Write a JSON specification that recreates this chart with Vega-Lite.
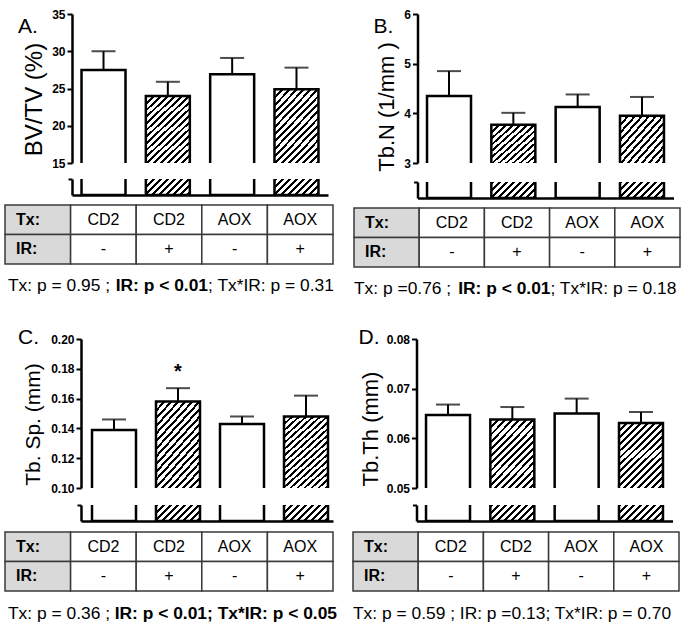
{
"$schema": "https://vega.github.io/schema/vega-lite/v6.json",
"background": "white",
"padding": {"left": 4, "top": 8, "right": 0, "bottom": 0},
"config": {
  "view": {"stroke": null},
  "font": "Liberation Sans",
  "axis": {"domainColor": "black", "domainWidth": 2.5, "tickColor": "black", "tickWidth": 2, "tickSize": 5, "labelColor": "black", "labelFontSize": 12, "labelFontWeight": "bold", "labelPadding": 2, "labelOverlap": false, "titleColor": "black", "titleFontSize": 22, "titleFontWeight": "normal", "grid": false},
  "axisY": {"titleAngle": -90, "titleAlign": "center", "titleBaseline": "bottom"}
},
"datasets": {
  "bars": [
    {"panel": "A", "grp": "CD2/-", "ir": "-", "mean": 27.5, "hi": 30.0, "star": ""},
    {"panel": "A", "grp": "CD2/+", "ir": "+", "mean": 24.0, "hi": 25.9, "star": ""},
    {"panel": "A", "grp": "AOX/-", "ir": "-", "mean": 26.9, "hi": 29.1, "star": ""},
    {"panel": "A", "grp": "AOX/+", "ir": "+", "mean": 24.9, "hi": 27.8, "star": ""},
    {"panel": "B", "grp": "CD2/-", "ir": "-", "mean": 4.35, "hi": 4.85, "star": ""},
    {"panel": "B", "grp": "CD2/+", "ir": "+", "mean": 3.77, "hi": 4.01, "star": ""},
    {"panel": "B", "grp": "AOX/-", "ir": "-", "mean": 4.13, "hi": 4.38, "star": ""},
    {"panel": "B", "grp": "AOX/+", "ir": "+", "mean": 3.95, "hi": 4.33, "star": ""},
    {"panel": "C", "grp": "CD2/-", "ir": "-", "mean": 0.139, "hi": 0.146, "star": ""},
    {"panel": "C", "grp": "CD2/+", "ir": "+", "mean": 0.158, "hi": 0.167, "star": "*"},
    {"panel": "C", "grp": "AOX/-", "ir": "-", "mean": 0.143, "hi": 0.148, "star": ""},
    {"panel": "C", "grp": "AOX/+", "ir": "+", "mean": 0.148, "hi": 0.162, "star": ""},
    {"panel": "D", "grp": "CD2/-", "ir": "-", "mean": 0.0647, "hi": 0.0668, "star": ""},
    {"panel": "D", "grp": "CD2/+", "ir": "+", "mean": 0.0638, "hi": 0.0663, "star": ""},
    {"panel": "D", "grp": "AOX/-", "ir": "-", "mean": 0.0650, "hi": 0.0680, "star": ""},
    {"panel": "D", "grp": "AOX/+", "ir": "+", "mean": 0.0631, "hi": 0.0653, "star": ""}
  ],
  "cells": [
    {"row": "Tx:", "col": "head", "label": "Tx:"},
    {"row": "IR:", "col": "head", "label": "IR:"},
    {"row": "Tx:", "col": "CD2/-", "label": "CD2"},
    {"row": "IR:", "col": "CD2/-", "label": "-"},
    {"row": "Tx:", "col": "CD2/+", "label": "CD2"},
    {"row": "IR:", "col": "CD2/+", "label": "+"},
    {"row": "Tx:", "col": "AOX/-", "label": "AOX"},
    {"row": "IR:", "col": "AOX/-", "label": "-"},
    {"row": "Tx:", "col": "AOX/+", "label": "AOX"},
    {"row": "IR:", "col": "AOX/+", "label": "+"}
  ],
  "pvals": [
    {"panel": "A", "t": "Tx: p = 0.95 ; ", "start": 0, "end": 15, "sig": false},
    {"panel": "A", "t": "IR: p < 0.01", "start": 15, "end": 27, "sig": true},
    {"panel": "A", "t": "; Tx*IR: p = 0.31", "start": 27, "end": 44, "sig": false},
    {"panel": "B", "t": "Tx: p =0.76 ; ", "start": 0, "end": 14, "sig": false},
    {"panel": "B", "t": "IR: p < 0.01", "start": 14, "end": 26, "sig": true},
    {"panel": "B", "t": "; Tx*IR: p = 0.18", "start": 26, "end": 43, "sig": false},
    {"panel": "C", "t": "Tx: p = 0.36 ; ", "start": 0, "end": 15, "sig": false},
    {"panel": "C", "t": "IR: p < 0.01; Tx*IR: p < 0.05", "start": 15, "end": 44, "sig": true},
    {"panel": "D", "t": "Tx: p = 0.59 ; IR: p =0.13; Tx*IR: p = 0.70", "start": 0, "end": 43, "sig": false}
  ]
},
"spacing": 26,
"vconcat": [
{"hconcat": [
{
 "spacing": 9,
 "vconcat": [
  {
   "width": 328, "height": 149,
   "title": {"text": "A.", "anchor": "start", "frame": "group", "orient": "top", "baseline": "top", "offset": -29, "dx": 13, "fontSize": 21, "fontWeight": "normal", "color": "black"},
   "data": {"name": "bars"},
   "transform": [{"filter": "datum.panel == 'A'"}],
   "encoding": {"x": {"field": "grp", "type": "nominal", "sort": null, "axis": null, "scale": {"domain": ["CD2/-", "CD2/+", "AOX/-", "AOX/+"], "range": [67, 323], "paddingInner": 0.316, "paddingOuter": 0.148}}},
   "layer": [
    {"transform": [{"filter": "datum.ir == '+'"}],
     "mark": {"type": "bar", "fill": {"gradient": "linear", "x1": 0, "y1": 0, "x2": 0.892, "y2": 1.429, "stops": [
{"offset":0,"color":"#000"},{"offset":0.02,"color":"#000"},{"offset":0.02,"color":"#fff"},{"offset":0.05,"color":"#fff"},
{"offset":0.05,"color":"#000"},{"offset":0.07,"color":"#000"},{"offset":0.07,"color":"#fff"},{"offset":0.1,"color":"#fff"},
{"offset":0.1,"color":"#000"},{"offset":0.12,"color":"#000"},{"offset":0.12,"color":"#fff"},{"offset":0.15,"color":"#fff"},
{"offset":0.15,"color":"#000"},{"offset":0.17,"color":"#000"},{"offset":0.17,"color":"#fff"},{"offset":0.2,"color":"#fff"},
{"offset":0.2,"color":"#000"},{"offset":0.22,"color":"#000"},{"offset":0.22,"color":"#fff"},{"offset":0.25,"color":"#fff"},
{"offset":0.25,"color":"#000"},{"offset":0.27,"color":"#000"},{"offset":0.27,"color":"#fff"},{"offset":0.3,"color":"#fff"},
{"offset":0.3,"color":"#000"},{"offset":0.32,"color":"#000"},{"offset":0.32,"color":"#fff"},{"offset":0.35,"color":"#fff"},
{"offset":0.35,"color":"#000"},{"offset":0.37,"color":"#000"},{"offset":0.37,"color":"#fff"},{"offset":0.4,"color":"#fff"},
{"offset":0.4,"color":"#000"},{"offset":0.42,"color":"#000"},{"offset":0.42,"color":"#fff"},{"offset":0.45,"color":"#fff"},
{"offset":0.45,"color":"#000"},{"offset":0.47,"color":"#000"},{"offset":0.47,"color":"#fff"},{"offset":0.5,"color":"#fff"},
{"offset":0.5,"color":"#000"},{"offset":0.52,"color":"#000"},{"offset":0.52,"color":"#fff"},{"offset":0.55,"color":"#fff"},
{"offset":0.55,"color":"#000"},{"offset":0.57,"color":"#000"},{"offset":0.57,"color":"#fff"},{"offset":0.6,"color":"#fff"},
{"offset":0.6,"color":"#000"},{"offset":0.62,"color":"#000"},{"offset":0.62,"color":"#fff"},{"offset":0.65,"color":"#fff"},
{"offset":0.65,"color":"#000"},{"offset":0.67,"color":"#000"},{"offset":0.67,"color":"#fff"},{"offset":0.7,"color":"#fff"},
{"offset":0.7,"color":"#000"},{"offset":0.72,"color":"#000"},{"offset":0.72,"color":"#fff"},{"offset":0.75,"color":"#fff"},
{"offset":0.75,"color":"#000"},{"offset":0.77,"color":"#000"},{"offset":0.77,"color":"#fff"},{"offset":0.8,"color":"#fff"},
{"offset":0.8,"color":"#000"},{"offset":0.82,"color":"#000"},{"offset":0.82,"color":"#fff"},{"offset":0.85,"color":"#fff"},
{"offset":0.85,"color":"#000"},{"offset":0.87,"color":"#000"},{"offset":0.87,"color":"#fff"},{"offset":0.9,"color":"#fff"},
{"offset":0.9,"color":"#000"},{"offset":0.92,"color":"#000"},{"offset":0.92,"color":"#fff"},{"offset":0.95,"color":"#fff"},
{"offset":0.95,"color":"#000"},{"offset":0.97,"color":"#000"},{"offset":0.97,"color":"#fff"},{"offset":1,"color":"#fff"}]}},
     "encoding": {"y": {"field": "mean", "type": "quantitative", "scale": {"domain": [15, 35], "nice": false, "zero": false}, "axis": {"title": "BV/TV (%)", "values": [15, 20, 25, 30, 35], "tickCount": 20, "format": "d", "offset": -67, "titleX": -26, "titleY": 85, "labelOverlap": false, "labelFontSize": 12, "labelFontWeight": "bold", "labelColor": "black", "labelPadding": 2, "domainWidth": 2.5, "domainColor": "black", "tickWidth": 2, "tickSize": 5, "tickColor": "black", "titleFontSize": 24, "titleFontWeight": "normal", "titleColor": "black", "titleAngle": -90, "titleAlign": "center", "titleBaseline": "bottom", "grid": false}}, "y2": {"datum": 15}}},
    {"mark": {"type": "bar", "filled": false, "stroke": "black", "strokeWidth": 2.5, "clip": true},
     "encoding": {"y": {"field": "mean", "type": "quantitative"}, "y2": {"datum": 0}}},
    {"mark": {"type": "rule", "stroke": "black", "strokeWidth": 2},
     "encoding": {"y": {"field": "mean", "type": "quantitative"}, "y2": {"field": "hi"}}},
    {"mark": {"type": "tick", "size": 24, "thickness": 2, "color": "black"},
     "encoding": {"y": {"field": "hi", "type": "quantitative"}}}
   ]
  },
  {
   "width": 328, "height": 16,
   "data": {"name": "bars"},
   "transform": [{"filter": "datum.panel == 'A'"}],
   "encoding": {"x": {"field": "grp", "type": "nominal", "sort": null, "axis": {"domain": true, "ticks": false, "labels": false, "title": null}, "scale": {"domain": ["CD2/-", "CD2/+", "AOX/-", "AOX/+"], "range": [67, 323], "paddingInner": 0.316, "paddingOuter": 0.148}}},
   "layer": [
    {"transform": [{"filter": "datum.ir == '+'"}],
     "mark": {"type": "bar", "fill": {"gradient": "linear", "x1": 0, "y1": 0, "x2": 2.81, "y2": 1.022, "stops": [
{"offset":0,"color":"#000"},{"offset":0.02,"color":"#000"},{"offset":0.02,"color":"#fff"},{"offset":0.05,"color":"#fff"},
{"offset":0.05,"color":"#000"},{"offset":0.07,"color":"#000"},{"offset":0.07,"color":"#fff"},{"offset":0.1,"color":"#fff"},
{"offset":0.1,"color":"#000"},{"offset":0.12,"color":"#000"},{"offset":0.12,"color":"#fff"},{"offset":0.15,"color":"#fff"},
{"offset":0.15,"color":"#000"},{"offset":0.17,"color":"#000"},{"offset":0.17,"color":"#fff"},{"offset":0.2,"color":"#fff"},
{"offset":0.2,"color":"#000"},{"offset":0.22,"color":"#000"},{"offset":0.22,"color":"#fff"},{"offset":0.25,"color":"#fff"},
{"offset":0.25,"color":"#000"},{"offset":0.27,"color":"#000"},{"offset":0.27,"color":"#fff"},{"offset":0.3,"color":"#fff"},
{"offset":0.3,"color":"#000"},{"offset":0.32,"color":"#000"},{"offset":0.32,"color":"#fff"},{"offset":0.35,"color":"#fff"},
{"offset":0.35,"color":"#000"},{"offset":0.37,"color":"#000"},{"offset":0.37,"color":"#fff"},{"offset":0.4,"color":"#fff"},
{"offset":0.4,"color":"#000"},{"offset":0.42,"color":"#000"},{"offset":0.42,"color":"#fff"},{"offset":0.45,"color":"#fff"},
{"offset":0.45,"color":"#000"},{"offset":0.47,"color":"#000"},{"offset":0.47,"color":"#fff"},{"offset":0.5,"color":"#fff"}]}},
     "encoding": {"y": {"datum": 1, "type": "quantitative", "scale": {"domain": [0, 1], "nice": false, "zero": false}, "axis": {"title": null, "labels": false, "values": [1], "offset": -67, "tickSize": 4}}, "y2": {"datum": 0}}},
    {"mark": {"type": "bar", "filled": false, "stroke": "black", "strokeWidth": 2.5, "clip": true},
     "encoding": {"y": {"datum": 2, "type": "quantitative"}, "y2": {"datum": 0}}}
   ]
  },
  {
   "width": 328, "height": 59,
   "data": {"name": "cells"},
   "encoding": {
     "x": {"field": "col", "type": "nominal", "sort": null, "axis": null, "scale": {"domain": ["head", "CD2/-", "CD2/+", "AOX/-", "AOX/+"], "paddingInner": 0, "paddingOuter": 0}},
     "y": {"field": "row", "type": "nominal", "sort": null, "axis": null, "scale": {"domain": ["Tx:", "IR:"], "paddingInner": 0, "paddingOuter": 0}}
   },
   "layer": [
    {"mark": {"type": "rect", "stroke": "#3a3a3a", "strokeWidth": 1.5},
     "encoding": {"fill": {"condition": {"test": "datum.col == 'head'", "value": "#d9d9d9"}, "value": "white"}}},
    {"transform": [{"filter": "datum.col != 'head'"}],
     "mark": {"type": "text", "fontSize": 16, "color": "black"},
     "encoding": {"text": {"field": "label"}}},
    {"transform": [{"filter": "datum.col == 'head'"}],
     "mark": {"type": "text", "fontSize": 16, "fontWeight": "bold", "align": "left", "dx": 11, "color": "black"},
     "encoding": {"text": {"field": "label"}, "x": {"field": "col", "type": "nominal", "bandPosition": 0}}}
   ]
  },
  {
   "width": 328, "height": 24,
   "data": {"name": "pvals"},
   "transform": [{"filter": "datum.panel == 'A'"}],
   "layer": [
    {"transform": [{"filter": "!datum.sig"}],
     "mark": {"type": "text", "align": "left", "fontSize": 17.4, "color": "black"},
     "encoding": {"x": {"field": "start", "type": "quantitative", "axis": null, "scale": {"domain": [0, 44], "range": [3, 329], "nice": false, "zero": false}}, "text": {"field": "t"}}},
    {"transform": [{"filter": "datum.sig"}],
     "mark": {"type": "text", "align": "right", "fontSize": 17.4, "fontWeight": "bold", "color": "black"},
     "encoding": {"x": {"field": "end", "type": "quantitative", "axis": null}, "text": {"field": "t"}}}
   ]
  }
 ]
},
{
 "spacing": 9,
 "vconcat": [
  {
   "width": 326, "height": 149,
   "title": {"text": "B.", "anchor": "start", "frame": "group", "orient": "top", "baseline": "top", "offset": -29, "dx": 19.5, "fontSize": 21, "fontWeight": "normal", "color": "black"},
   "data": {"name": "bars"},
   "transform": [{"filter": "datum.panel == 'B'"}],
   "encoding": {"x": {"field": "grp", "type": "nominal", "sort": null, "axis": null, "scale": {"domain": ["CD2/-", "CD2/+", "AOX/-", "AOX/+"], "range": [63.5, 319.5], "paddingInner": 0.316, "paddingOuter": 0.148}}},
   "layer": [
    {"transform": [{"filter": "datum.ir == '+'"}],
     "mark": {"type": "bar", "fill": {"gradient": "linear", "x1": 0, "y1": 0, "x2": 1.646, "y2": 1.59, "stops": [
{"offset":0,"color":"#000"},{"offset":0.02,"color":"#000"},{"offset":0.02,"color":"#fff"},{"offset":0.05,"color":"#fff"},
{"offset":0.05,"color":"#000"},{"offset":0.07,"color":"#000"},{"offset":0.07,"color":"#fff"},{"offset":0.1,"color":"#fff"},
{"offset":0.1,"color":"#000"},{"offset":0.12,"color":"#000"},{"offset":0.12,"color":"#fff"},{"offset":0.15,"color":"#fff"},
{"offset":0.15,"color":"#000"},{"offset":0.17,"color":"#000"},{"offset":0.17,"color":"#fff"},{"offset":0.2,"color":"#fff"},
{"offset":0.2,"color":"#000"},{"offset":0.22,"color":"#000"},{"offset":0.22,"color":"#fff"},{"offset":0.25,"color":"#fff"},
{"offset":0.25,"color":"#000"},{"offset":0.27,"color":"#000"},{"offset":0.27,"color":"#fff"},{"offset":0.3,"color":"#fff"},
{"offset":0.3,"color":"#000"},{"offset":0.32,"color":"#000"},{"offset":0.32,"color":"#fff"},{"offset":0.35,"color":"#fff"},
{"offset":0.35,"color":"#000"},{"offset":0.37,"color":"#000"},{"offset":0.37,"color":"#fff"},{"offset":0.4,"color":"#fff"},
{"offset":0.4,"color":"#000"},{"offset":0.42,"color":"#000"},{"offset":0.42,"color":"#fff"},{"offset":0.45,"color":"#fff"},
{"offset":0.45,"color":"#000"},{"offset":0.47,"color":"#000"},{"offset":0.47,"color":"#fff"},{"offset":0.5,"color":"#fff"},
{"offset":0.5,"color":"#000"},{"offset":0.52,"color":"#000"},{"offset":0.52,"color":"#fff"},{"offset":0.55,"color":"#fff"},
{"offset":0.55,"color":"#000"},{"offset":0.57,"color":"#000"},{"offset":0.57,"color":"#fff"},{"offset":0.6,"color":"#fff"},
{"offset":0.6,"color":"#000"},{"offset":0.62,"color":"#000"},{"offset":0.62,"color":"#fff"},{"offset":0.65,"color":"#fff"},
{"offset":0.65,"color":"#000"},{"offset":0.67,"color":"#000"},{"offset":0.67,"color":"#fff"},{"offset":0.7,"color":"#fff"},
{"offset":0.7,"color":"#000"},{"offset":0.72,"color":"#000"},{"offset":0.72,"color":"#fff"},{"offset":0.75,"color":"#fff"},
{"offset":0.75,"color":"#000"},{"offset":0.77,"color":"#000"},{"offset":0.77,"color":"#fff"},{"offset":0.8,"color":"#fff"}]}},
     "encoding": {"y": {"field": "mean", "type": "quantitative", "scale": {"domain": [3, 6], "nice": false, "zero": false}, "axis": {"title": "Tb.N (1/mm )", "values": [3, 4, 5, 6], "tickCount": 20, "format": "d", "offset": -63.5, "titleX": -19.4, "titleY": 92.5, "labelOverlap": false, "labelFontSize": 12, "labelFontWeight": "bold", "labelColor": "black", "labelPadding": 2, "domainWidth": 2.5, "domainColor": "black", "tickWidth": 2, "tickSize": 5, "tickColor": "black", "titleFontSize": 22, "titleFontWeight": "normal", "titleColor": "black", "titleAngle": -90, "titleAlign": "center", "titleBaseline": "bottom", "grid": false}}, "y2": {"datum": 3}}},
    {"mark": {"type": "bar", "filled": false, "stroke": "black", "strokeWidth": 2.5, "clip": true},
     "encoding": {"y": {"field": "mean", "type": "quantitative"}, "y2": {"datum": 0}}},
    {"mark": {"type": "rule", "stroke": "black", "strokeWidth": 2},
     "encoding": {"y": {"field": "mean", "type": "quantitative"}, "y2": {"field": "hi"}}},
    {"mark": {"type": "tick", "size": 24, "thickness": 2, "color": "black"},
     "encoding": {"y": {"field": "hi", "type": "quantitative"}}}
   ]
  },
  {
   "width": 326, "height": 16,
   "data": {"name": "bars"},
   "transform": [{"filter": "datum.panel == 'B'"}],
   "encoding": {"x": {"field": "grp", "type": "nominal", "sort": null, "axis": {"domain": true, "ticks": false, "labels": false, "title": null}, "scale": {"domain": ["CD2/-", "CD2/+", "AOX/-", "AOX/+"], "range": [63.5, 319.5], "paddingInner": 0.316, "paddingOuter": 0.148}}},
   "layer": [
    {"transform": [{"filter": "datum.ir == '+'"}],
     "mark": {"type": "bar", "fill": {"gradient": "linear", "x1": 0, "y1": 0, "x2": 2.81, "y2": 1.022, "stops": [
{"offset":0,"color":"#000"},{"offset":0.02,"color":"#000"},{"offset":0.02,"color":"#fff"},{"offset":0.05,"color":"#fff"},
{"offset":0.05,"color":"#000"},{"offset":0.07,"color":"#000"},{"offset":0.07,"color":"#fff"},{"offset":0.1,"color":"#fff"},
{"offset":0.1,"color":"#000"},{"offset":0.12,"color":"#000"},{"offset":0.12,"color":"#fff"},{"offset":0.15,"color":"#fff"},
{"offset":0.15,"color":"#000"},{"offset":0.17,"color":"#000"},{"offset":0.17,"color":"#fff"},{"offset":0.2,"color":"#fff"},
{"offset":0.2,"color":"#000"},{"offset":0.22,"color":"#000"},{"offset":0.22,"color":"#fff"},{"offset":0.25,"color":"#fff"},
{"offset":0.25,"color":"#000"},{"offset":0.27,"color":"#000"},{"offset":0.27,"color":"#fff"},{"offset":0.3,"color":"#fff"},
{"offset":0.3,"color":"#000"},{"offset":0.32,"color":"#000"},{"offset":0.32,"color":"#fff"},{"offset":0.35,"color":"#fff"},
{"offset":0.35,"color":"#000"},{"offset":0.37,"color":"#000"},{"offset":0.37,"color":"#fff"},{"offset":0.4,"color":"#fff"},
{"offset":0.4,"color":"#000"},{"offset":0.42,"color":"#000"},{"offset":0.42,"color":"#fff"},{"offset":0.45,"color":"#fff"},
{"offset":0.45,"color":"#000"},{"offset":0.47,"color":"#000"},{"offset":0.47,"color":"#fff"},{"offset":0.5,"color":"#fff"}]}},
     "encoding": {"y": {"datum": 1, "type": "quantitative", "scale": {"domain": [0, 1], "nice": false, "zero": false}, "axis": {"title": null, "labels": false, "values": [1], "offset": -63.5, "tickSize": 4}}, "y2": {"datum": 0}}},
    {"mark": {"type": "bar", "filled": false, "stroke": "black", "strokeWidth": 2.5, "clip": true},
     "encoding": {"y": {"datum": 2, "type": "quantitative"}, "y2": {"datum": 0}}}
   ]
  },
  {
   "width": 326, "height": 59,
   "data": {"name": "cells"},
   "encoding": {
     "x": {"field": "col", "type": "nominal", "sort": null, "axis": null, "scale": {"domain": ["head", "CD2/-", "CD2/+", "AOX/-", "AOX/+"], "paddingInner": 0, "paddingOuter": 0}},
     "y": {"field": "row", "type": "nominal", "sort": null, "axis": null, "scale": {"domain": ["Tx:", "IR:"], "paddingInner": 0, "paddingOuter": 0}}
   },
   "layer": [
    {"mark": {"type": "rect", "stroke": "#3a3a3a", "strokeWidth": 1.5},
     "encoding": {"fill": {"condition": {"test": "datum.col == 'head'", "value": "#d9d9d9"}, "value": "white"}}},
    {"transform": [{"filter": "datum.col != 'head'"}],
     "mark": {"type": "text", "fontSize": 16, "color": "black"},
     "encoding": {"text": {"field": "label"}}},
    {"transform": [{"filter": "datum.col == 'head'"}],
     "mark": {"type": "text", "fontSize": 16, "fontWeight": "bold", "align": "left", "dx": 11, "color": "black"},
     "encoding": {"text": {"field": "label"}, "x": {"field": "col", "type": "nominal", "bandPosition": 0}}}
   ]
  },
  {
   "width": 326, "height": 24,
   "data": {"name": "pvals"},
   "transform": [{"filter": "datum.panel == 'B'"}],
   "layer": [
    {"transform": [{"filter": "!datum.sig"}],
     "mark": {"type": "text", "align": "left", "fontSize": 17.4, "color": "black"},
     "encoding": {"x": {"field": "start", "type": "quantitative", "axis": null, "scale": {"domain": [0, 43], "range": [0, 325], "nice": false, "zero": false}}, "text": {"field": "t"}}},
    {"transform": [{"filter": "datum.sig"}],
     "mark": {"type": "text", "align": "right", "fontSize": 17.4, "fontWeight": "bold", "color": "black"},
     "encoding": {"x": {"field": "end", "type": "quantitative", "axis": null}, "text": {"field": "t"}}}
   ]
  }
 ]
}
], "spacing": 18},
{"hconcat": [
{
 "spacing": 10,
 "vconcat": [
  {
   "width": 328, "height": 149,
   "title": {"text": "C.", "anchor": "start", "frame": "group", "orient": "top", "baseline": "top", "offset": -15, "dx": 13, "fontSize": 21, "fontWeight": "normal", "color": "black"},
   "data": {"name": "bars"},
   "transform": [{"filter": "datum.panel == 'C'"}],
   "encoding": {"x": {"field": "grp", "type": "nominal", "sort": null, "axis": null, "scale": {"domain": ["CD2/-", "CD2/+", "AOX/-", "AOX/+"], "range": [76, 328], "paddingInner": 0.3125, "paddingOuter": 0.125, "align": 0.6875}}},
   "layer": [
    {"transform": [{"filter": "datum.ir == '+'"}],
     "mark": {"type": "bar", "fill": {"gradient": "linear", "x1": 0, "y1": 0, "x2": 0.753, "y2": 1.353, "stops": [
{"offset":0,"color":"#000"},{"offset":0.02,"color":"#000"},{"offset":0.02,"color":"#fff"},{"offset":0.05,"color":"#fff"},
{"offset":0.05,"color":"#000"},{"offset":0.07,"color":"#000"},{"offset":0.07,"color":"#fff"},{"offset":0.1,"color":"#fff"},
{"offset":0.1,"color":"#000"},{"offset":0.12,"color":"#000"},{"offset":0.12,"color":"#fff"},{"offset":0.15,"color":"#fff"},
{"offset":0.15,"color":"#000"},{"offset":0.17,"color":"#000"},{"offset":0.17,"color":"#fff"},{"offset":0.2,"color":"#fff"},
{"offset":0.2,"color":"#000"},{"offset":0.22,"color":"#000"},{"offset":0.22,"color":"#fff"},{"offset":0.25,"color":"#fff"},
{"offset":0.25,"color":"#000"},{"offset":0.27,"color":"#000"},{"offset":0.27,"color":"#fff"},{"offset":0.3,"color":"#fff"},
{"offset":0.3,"color":"#000"},{"offset":0.32,"color":"#000"},{"offset":0.32,"color":"#fff"},{"offset":0.35,"color":"#fff"},
{"offset":0.35,"color":"#000"},{"offset":0.37,"color":"#000"},{"offset":0.37,"color":"#fff"},{"offset":0.4,"color":"#fff"},
{"offset":0.4,"color":"#000"},{"offset":0.42,"color":"#000"},{"offset":0.42,"color":"#fff"},{"offset":0.45,"color":"#fff"},
{"offset":0.45,"color":"#000"},{"offset":0.47,"color":"#000"},{"offset":0.47,"color":"#fff"},{"offset":0.5,"color":"#fff"},
{"offset":0.5,"color":"#000"},{"offset":0.52,"color":"#000"},{"offset":0.52,"color":"#fff"},{"offset":0.55,"color":"#fff"},
{"offset":0.55,"color":"#000"},{"offset":0.57,"color":"#000"},{"offset":0.57,"color":"#fff"},{"offset":0.6,"color":"#fff"},
{"offset":0.6,"color":"#000"},{"offset":0.62,"color":"#000"},{"offset":0.62,"color":"#fff"},{"offset":0.65,"color":"#fff"},
{"offset":0.65,"color":"#000"},{"offset":0.67,"color":"#000"},{"offset":0.67,"color":"#fff"},{"offset":0.7,"color":"#fff"},
{"offset":0.7,"color":"#000"},{"offset":0.72,"color":"#000"},{"offset":0.72,"color":"#fff"},{"offset":0.75,"color":"#fff"},
{"offset":0.75,"color":"#000"},{"offset":0.77,"color":"#000"},{"offset":0.77,"color":"#fff"},{"offset":0.8,"color":"#fff"},
{"offset":0.8,"color":"#000"},{"offset":0.82,"color":"#000"},{"offset":0.82,"color":"#fff"},{"offset":0.85,"color":"#fff"},
{"offset":0.85,"color":"#000"},{"offset":0.87,"color":"#000"},{"offset":0.87,"color":"#fff"},{"offset":0.9,"color":"#fff"},
{"offset":0.9,"color":"#000"},{"offset":0.92,"color":"#000"},{"offset":0.92,"color":"#fff"},{"offset":0.95,"color":"#fff"},
{"offset":0.95,"color":"#000"},{"offset":0.97,"color":"#000"},{"offset":0.97,"color":"#fff"},{"offset":1,"color":"#fff"}]}},
     "encoding": {"y": {"field": "mean", "type": "quantitative", "scale": {"domain": [0.1, 0.2], "nice": false, "zero": false}, "axis": {"title": "Tb. Sp. (mm)", "values": [0.1, 0.12, 0.14, 0.16, 0.18, 0.2], "tickCount": 20, "format": ".2f", "offset": -76, "titleX": -37.4, "titleY": 85, "labelOverlap": false, "labelFontSize": 12, "labelFontWeight": "bold", "labelColor": "black", "labelPadding": 2, "domainWidth": 2.5, "domainColor": "black", "tickWidth": 2, "tickSize": 5, "tickColor": "black", "titleFontSize": 21, "titleFontWeight": "normal", "titleColor": "black", "titleAngle": -90, "titleAlign": "center", "titleBaseline": "bottom", "grid": false}}, "y2": {"datum": 0.1}}},
    {"mark": {"type": "bar", "filled": false, "stroke": "black", "strokeWidth": 2.5, "clip": true},
     "encoding": {"y": {"field": "mean", "type": "quantitative"}, "y2": {"datum": 0}}},
    {"mark": {"type": "rule", "stroke": "black", "strokeWidth": 2},
     "encoding": {"y": {"field": "mean", "type": "quantitative"}, "y2": {"field": "hi"}}},
    {"mark": {"type": "tick", "size": 24, "thickness": 2, "color": "black"},
     "encoding": {"y": {"field": "hi", "type": "quantitative"}}},
    {"transform": [{"filter": "datum.star != ''"}],
     "mark": {"type": "text", "fontSize": 20, "fontWeight": "bold", "baseline": "alphabetic", "dy": -10, "color": "black"},
     "encoding": {"y": {"field": "hi", "type": "quantitative"}, "text": {"field": "star"}}}
   ]
  },
  {
   "width": 328, "height": 16,
   "data": {"name": "bars"},
   "transform": [{"filter": "datum.panel == 'C'"}],
   "encoding": {"x": {"field": "grp", "type": "nominal", "sort": null, "axis": {"domain": true, "ticks": false, "labels": false, "title": null}, "scale": {"domain": ["CD2/-", "CD2/+", "AOX/-", "AOX/+"], "range": [76, 328], "paddingInner": 0.3125, "paddingOuter": 0.125, "align": 0.6875}}},
   "layer": [
    {"transform": [{"filter": "datum.ir == '+'"}],
     "mark": {"type": "bar", "fill": {"gradient": "linear", "x1": 0, "y1": 0, "x2": 2.81, "y2": 1.022, "stops": [
{"offset":0,"color":"#000"},{"offset":0.02,"color":"#000"},{"offset":0.02,"color":"#fff"},{"offset":0.05,"color":"#fff"},
{"offset":0.05,"color":"#000"},{"offset":0.07,"color":"#000"},{"offset":0.07,"color":"#fff"},{"offset":0.1,"color":"#fff"},
{"offset":0.1,"color":"#000"},{"offset":0.12,"color":"#000"},{"offset":0.12,"color":"#fff"},{"offset":0.15,"color":"#fff"},
{"offset":0.15,"color":"#000"},{"offset":0.17,"color":"#000"},{"offset":0.17,"color":"#fff"},{"offset":0.2,"color":"#fff"},
{"offset":0.2,"color":"#000"},{"offset":0.22,"color":"#000"},{"offset":0.22,"color":"#fff"},{"offset":0.25,"color":"#fff"},
{"offset":0.25,"color":"#000"},{"offset":0.27,"color":"#000"},{"offset":0.27,"color":"#fff"},{"offset":0.3,"color":"#fff"},
{"offset":0.3,"color":"#000"},{"offset":0.32,"color":"#000"},{"offset":0.32,"color":"#fff"},{"offset":0.35,"color":"#fff"},
{"offset":0.35,"color":"#000"},{"offset":0.37,"color":"#000"},{"offset":0.37,"color":"#fff"},{"offset":0.4,"color":"#fff"},
{"offset":0.4,"color":"#000"},{"offset":0.42,"color":"#000"},{"offset":0.42,"color":"#fff"},{"offset":0.45,"color":"#fff"},
{"offset":0.45,"color":"#000"},{"offset":0.47,"color":"#000"},{"offset":0.47,"color":"#fff"},{"offset":0.5,"color":"#fff"}]}},
     "encoding": {"y": {"datum": 1, "type": "quantitative", "scale": {"domain": [0, 1], "nice": false, "zero": false}, "axis": {"title": null, "labels": false, "values": [1], "offset": -76, "tickSize": 4}}, "y2": {"datum": 0}}},
    {"mark": {"type": "bar", "filled": false, "stroke": "black", "strokeWidth": 2.5, "clip": true},
     "encoding": {"y": {"datum": 2, "type": "quantitative"}, "y2": {"datum": 0}}}
   ]
  },
  {
   "width": 328, "height": 59,
   "data": {"name": "cells"},
   "encoding": {
     "x": {"field": "col", "type": "nominal", "sort": null, "axis": null, "scale": {"domain": ["head", "CD2/-", "CD2/+", "AOX/-", "AOX/+"], "paddingInner": 0, "paddingOuter": 0}},
     "y": {"field": "row", "type": "nominal", "sort": null, "axis": null, "scale": {"domain": ["Tx:", "IR:"], "paddingInner": 0, "paddingOuter": 0}}
   },
   "layer": [
    {"mark": {"type": "rect", "stroke": "#3a3a3a", "strokeWidth": 1.5},
     "encoding": {"fill": {"condition": {"test": "datum.col == 'head'", "value": "#d9d9d9"}, "value": "white"}}},
    {"transform": [{"filter": "datum.col != 'head'"}],
     "mark": {"type": "text", "fontSize": 16, "color": "black"},
     "encoding": {"text": {"field": "label"}}},
    {"transform": [{"filter": "datum.col == 'head'"}],
     "mark": {"type": "text", "fontSize": 16, "fontWeight": "bold", "align": "left", "dx": 11, "color": "black"},
     "encoding": {"text": {"field": "label"}, "x": {"field": "col", "type": "nominal", "bandPosition": 0}}}
   ]
  },
  {
   "width": 328, "height": 24,
   "data": {"name": "pvals"},
   "transform": [{"filter": "datum.panel == 'C'"}],
   "layer": [
    {"transform": [{"filter": "!datum.sig"}],
     "mark": {"type": "text", "align": "left", "fontSize": 17.4, "color": "black"},
     "encoding": {"x": {"field": "start", "type": "quantitative", "axis": null, "scale": {"domain": [0, 44], "range": [3, 332], "nice": false, "zero": false}}, "text": {"field": "t"}}},
    {"transform": [{"filter": "datum.sig"}],
     "mark": {"type": "text", "align": "right", "fontSize": 17.4, "fontWeight": "bold", "color": "black"},
     "encoding": {"x": {"field": "end", "type": "quantitative", "axis": null}, "text": {"field": "t"}}}
   ]
  }
 ]
},
{
 "spacing": 10,
 "vconcat": [
  {
   "width": 326, "height": 149,
   "title": {"text": "D.", "anchor": "start", "frame": "group", "orient": "top", "baseline": "top", "offset": -15, "dx": 5.5, "fontSize": 21, "fontWeight": "normal", "color": "black"},
   "data": {"name": "bars"},
   "transform": [{"filter": "datum.panel == 'D'"}],
   "encoding": {"x": {"field": "grp", "type": "nominal", "sort": null, "axis": null, "scale": {"domain": ["CD2/-", "CD2/+", "AOX/-", "AOX/+"], "range": [63.5, 319.5], "paddingInner": 0.316, "paddingOuter": 0.148}}},
   "layer": [
    {"transform": [{"filter": "datum.ir == '+'"}],
     "mark": {"type": "bar", "fill": {"gradient": "linear", "x1": 0, "y1": 0, "x2": 0.963, "y2": 1.462, "stops": [
{"offset":0,"color":"#000"},{"offset":0.02,"color":"#000"},{"offset":0.02,"color":"#fff"},{"offset":0.05,"color":"#fff"},
{"offset":0.05,"color":"#000"},{"offset":0.07,"color":"#000"},{"offset":0.07,"color":"#fff"},{"offset":0.1,"color":"#fff"},
{"offset":0.1,"color":"#000"},{"offset":0.12,"color":"#000"},{"offset":0.12,"color":"#fff"},{"offset":0.15,"color":"#fff"},
{"offset":0.15,"color":"#000"},{"offset":0.17,"color":"#000"},{"offset":0.17,"color":"#fff"},{"offset":0.2,"color":"#fff"},
{"offset":0.2,"color":"#000"},{"offset":0.22,"color":"#000"},{"offset":0.22,"color":"#fff"},{"offset":0.25,"color":"#fff"},
{"offset":0.25,"color":"#000"},{"offset":0.27,"color":"#000"},{"offset":0.27,"color":"#fff"},{"offset":0.3,"color":"#fff"},
{"offset":0.3,"color":"#000"},{"offset":0.32,"color":"#000"},{"offset":0.32,"color":"#fff"},{"offset":0.35,"color":"#fff"},
{"offset":0.35,"color":"#000"},{"offset":0.37,"color":"#000"},{"offset":0.37,"color":"#fff"},{"offset":0.4,"color":"#fff"},
{"offset":0.4,"color":"#000"},{"offset":0.42,"color":"#000"},{"offset":0.42,"color":"#fff"},{"offset":0.45,"color":"#fff"},
{"offset":0.45,"color":"#000"},{"offset":0.47,"color":"#000"},{"offset":0.47,"color":"#fff"},{"offset":0.5,"color":"#fff"},
{"offset":0.5,"color":"#000"},{"offset":0.52,"color":"#000"},{"offset":0.52,"color":"#fff"},{"offset":0.55,"color":"#fff"},
{"offset":0.55,"color":"#000"},{"offset":0.57,"color":"#000"},{"offset":0.57,"color":"#fff"},{"offset":0.6,"color":"#fff"},
{"offset":0.6,"color":"#000"},{"offset":0.62,"color":"#000"},{"offset":0.62,"color":"#fff"},{"offset":0.65,"color":"#fff"},
{"offset":0.65,"color":"#000"},{"offset":0.67,"color":"#000"},{"offset":0.67,"color":"#fff"},{"offset":0.7,"color":"#fff"},
{"offset":0.7,"color":"#000"},{"offset":0.72,"color":"#000"},{"offset":0.72,"color":"#fff"},{"offset":0.75,"color":"#fff"},
{"offset":0.75,"color":"#000"},{"offset":0.77,"color":"#000"},{"offset":0.77,"color":"#fff"},{"offset":0.8,"color":"#fff"},
{"offset":0.8,"color":"#000"},{"offset":0.82,"color":"#000"},{"offset":0.82,"color":"#fff"},{"offset":0.85,"color":"#fff"},
{"offset":0.85,"color":"#000"},{"offset":0.87,"color":"#000"},{"offset":0.87,"color":"#fff"},{"offset":0.9,"color":"#fff"}]}},
     "encoding": {"y": {"field": "mean", "type": "quantitative", "scale": {"domain": [0.05, 0.08], "nice": false, "zero": false}, "axis": {"title": "Tb.Th (mm)", "values": [0.05, 0.06, 0.07, 0.08], "tickCount": 20, "format": ".2f", "offset": -63.5, "titleX": -34.4, "titleY": 89.5, "labelOverlap": false, "labelFontSize": 12, "labelFontWeight": "bold", "labelColor": "black", "labelPadding": 2, "domainWidth": 2.5, "domainColor": "black", "tickWidth": 2, "tickSize": 5, "tickColor": "black", "titleFontSize": 22, "titleFontWeight": "normal", "titleColor": "black", "titleAngle": -90, "titleAlign": "center", "titleBaseline": "bottom", "grid": false}}, "y2": {"datum": 0.05}}},
    {"mark": {"type": "bar", "filled": false, "stroke": "black", "strokeWidth": 2.5, "clip": true},
     "encoding": {"y": {"field": "mean", "type": "quantitative"}, "y2": {"datum": 0}}},
    {"mark": {"type": "rule", "stroke": "black", "strokeWidth": 2},
     "encoding": {"y": {"field": "mean", "type": "quantitative"}, "y2": {"field": "hi"}}},
    {"mark": {"type": "tick", "size": 24, "thickness": 2, "color": "black"},
     "encoding": {"y": {"field": "hi", "type": "quantitative"}}}
   ]
  },
  {
   "width": 326, "height": 16,
   "data": {"name": "bars"},
   "transform": [{"filter": "datum.panel == 'D'"}],
   "encoding": {"x": {"field": "grp", "type": "nominal", "sort": null, "axis": {"domain": true, "ticks": false, "labels": false, "title": null}, "scale": {"domain": ["CD2/-", "CD2/+", "AOX/-", "AOX/+"], "range": [63.5, 319.5], "paddingInner": 0.316, "paddingOuter": 0.148}}},
   "layer": [
    {"transform": [{"filter": "datum.ir == '+'"}],
     "mark": {"type": "bar", "fill": {"gradient": "linear", "x1": 0, "y1": 0, "x2": 2.81, "y2": 1.022, "stops": [
{"offset":0,"color":"#000"},{"offset":0.02,"color":"#000"},{"offset":0.02,"color":"#fff"},{"offset":0.05,"color":"#fff"},
{"offset":0.05,"color":"#000"},{"offset":0.07,"color":"#000"},{"offset":0.07,"color":"#fff"},{"offset":0.1,"color":"#fff"},
{"offset":0.1,"color":"#000"},{"offset":0.12,"color":"#000"},{"offset":0.12,"color":"#fff"},{"offset":0.15,"color":"#fff"},
{"offset":0.15,"color":"#000"},{"offset":0.17,"color":"#000"},{"offset":0.17,"color":"#fff"},{"offset":0.2,"color":"#fff"},
{"offset":0.2,"color":"#000"},{"offset":0.22,"color":"#000"},{"offset":0.22,"color":"#fff"},{"offset":0.25,"color":"#fff"},
{"offset":0.25,"color":"#000"},{"offset":0.27,"color":"#000"},{"offset":0.27,"color":"#fff"},{"offset":0.3,"color":"#fff"},
{"offset":0.3,"color":"#000"},{"offset":0.32,"color":"#000"},{"offset":0.32,"color":"#fff"},{"offset":0.35,"color":"#fff"},
{"offset":0.35,"color":"#000"},{"offset":0.37,"color":"#000"},{"offset":0.37,"color":"#fff"},{"offset":0.4,"color":"#fff"},
{"offset":0.4,"color":"#000"},{"offset":0.42,"color":"#000"},{"offset":0.42,"color":"#fff"},{"offset":0.45,"color":"#fff"},
{"offset":0.45,"color":"#000"},{"offset":0.47,"color":"#000"},{"offset":0.47,"color":"#fff"},{"offset":0.5,"color":"#fff"}]}},
     "encoding": {"y": {"datum": 1, "type": "quantitative", "scale": {"domain": [0, 1], "nice": false, "zero": false}, "axis": {"title": null, "labels": false, "values": [1], "offset": -63.5, "tickSize": 4}}, "y2": {"datum": 0}}},
    {"mark": {"type": "bar", "filled": false, "stroke": "black", "strokeWidth": 2.5, "clip": true},
     "encoding": {"y": {"datum": 2, "type": "quantitative"}, "y2": {"datum": 0}}}
   ]
  },
  {
   "width": 326, "height": 59,
   "data": {"name": "cells"},
   "encoding": {
     "x": {"field": "col", "type": "nominal", "sort": null, "axis": null, "scale": {"domain": ["head", "CD2/-", "CD2/+", "AOX/-", "AOX/+"], "paddingInner": 0, "paddingOuter": 0}},
     "y": {"field": "row", "type": "nominal", "sort": null, "axis": null, "scale": {"domain": ["Tx:", "IR:"], "paddingInner": 0, "paddingOuter": 0}}
   },
   "layer": [
    {"mark": {"type": "rect", "stroke": "#3a3a3a", "strokeWidth": 1.5},
     "encoding": {"fill": {"condition": {"test": "datum.col == 'head'", "value": "#d9d9d9"}, "value": "white"}}},
    {"transform": [{"filter": "datum.col != 'head'"}],
     "mark": {"type": "text", "fontSize": 16, "color": "black"},
     "encoding": {"text": {"field": "label"}}},
    {"transform": [{"filter": "datum.col == 'head'"}],
     "mark": {"type": "text", "fontSize": 16, "fontWeight": "bold", "align": "left", "dx": 11, "color": "black"},
     "encoding": {"text": {"field": "label"}, "x": {"field": "col", "type": "nominal", "bandPosition": 0}}}
   ]
  },
  {
   "width": 326, "height": 24,
   "data": {"name": "pvals"},
   "transform": [{"filter": "datum.panel == 'D'"}],
   "layer": [
    {"mark": {"type": "text", "align": "left", "fontSize": 17.4, "color": "black"},
     "encoding": {"x": {"field": "start", "type": "quantitative", "axis": null, "scale": {"domain": [0, 43], "range": [0, 325], "nice": false, "zero": false}}, "text": {"field": "t"}}}
   ]
  }
 ]
}
], "spacing": 15}
]
}
